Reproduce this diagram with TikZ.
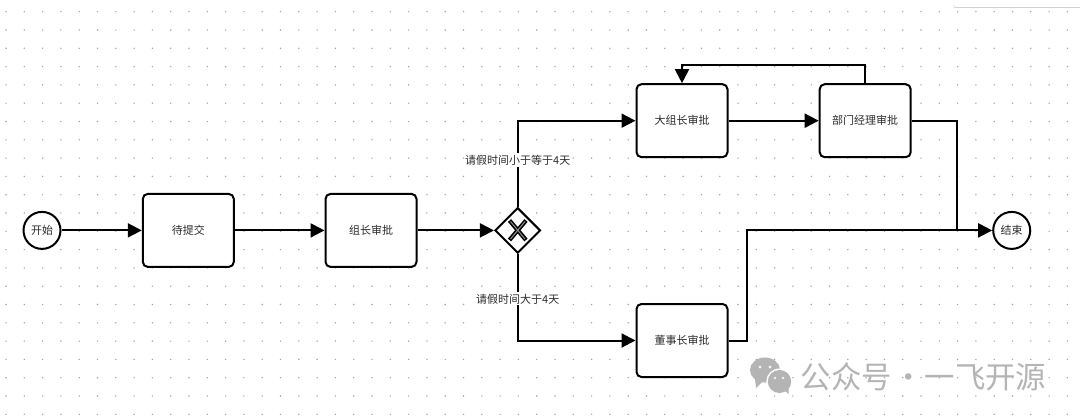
\documentclass[tikz,border=0pt]{standalone}
\usepackage{fontspec}
\setmainfont{Noto Sans CJK SC}
\usetikzlibrary{arrows.meta,shapes.geometric,shadows}
\definecolor{textgray}{HTML}{2B2B2B}
\definecolor{dotgray}{HTML}{A6A6A6}
\definecolor{markgray}{HTML}{B4B4B4}
\tikzset{
    taskbox/.style={draw=black,line width=2pt,rounded corners=5pt,fill=white,minimum width=91pt,minimum height=73pt,inner sep=0pt,text=textgray,font=\fontsize{11}{12}\selectfont},
    eventnode/.style={circle,draw=black,line width=2pt,fill=white,minimum size=37pt,inner sep=0pt,text=textgray,font=\fontsize{11}{12}\selectfont},
    gatewaynode/.style={diamond,draw=black,line width=2pt,fill=white,minimum width=45.5pt,minimum height=45.5pt,inner sep=0pt},
    flowline/.style={draw=black,line width=2pt,-{Triangle[length=14pt,width=14pt]}},
    plainline/.style={draw=black,line width=2pt},
    condlabel/.style={fill=white,inner xsep=1pt,inner ysep=1.5pt,text=textgray,font=\fontsize{11}{12}\selectfont},
    marktext/.style={text=markgray,inner sep=0pt,font=\fontsize{30.4}{32}\selectfont}
}
\begin{document}
\begin{tikzpicture}[x=1pt,y=-1pt]
    % Define dimensions
    \def\dotcols{58}
    \def\dotrows{22}
    \def\spacing{18.3}
    \useasboundingbox (0,0) rectangle (1080,420);
    \fill[white] (0,0) rectangle (1080,420);
    % Dotted paper
    \foreach \x in {0,1,...,\dotcols}
        \foreach \y in {0,1,...,\dotrows}
            \fill[dotgray] (6+\x*\spacing,11.7+\y*\spacing) circle (0.8pt);
    % Panel at the top right
    \fill[white,drop shadow={shadow xshift=0pt,shadow yshift=-1pt,opacity=0.35}] (953,-10) [rounded corners=3pt] rectangle (1090,7);
    % Events and tasks
    \node[eventnode] (startev) at (42,230.4) {开始};
    \node[taskbox] (submit) at (188.3,230.4) {待提交};
    \node[taskbox] (leader) at (371,230.4) {组长审批};
    \node[gatewaynode] (gate) at (517.7,230.4) {};
    \node[taskbox] (bigleader) at (682,120.7) {大组长审批};
    \node[taskbox] (manager) at (865.2,120.7) {部门经理审批};
    \node[taskbox] (chairman) at (682,340.5) {董事长审批};
    \node[eventnode] (endev) at (1011.7,230.4) {结束};
    \coordinate (joint) at (957.3,230.4);
    % Cross inside the gateway
    \draw[black,line width=4.2pt] (509.5,220.5) -- (526,240) (526,220.5) -- (509.5,240);
    \draw[black!45,line width=1pt] (510.5,221.5) -- (525,239) (525,221.5) -- (510.5,239);
    % Connectors
    \draw[flowline] (startev) -- (submit);
    \draw[flowline] (submit) -- (leader);
    \draw[flowline] (leader) -- (gate);
    \draw[flowline] (gate.north) |- node[condlabel,pos=0.271] (labelshort) {请假时间小于等于4天} (bigleader.west);
    \draw[flowline] (gate.south) |- node[condlabel,pos=0.259] (labellong) {请假时间大于4天} (chairman.west);
    \draw[flowline] (bigleader) -- (manager);
    \draw[flowline] (manager.north) -- ++(0,-18.3) -| (bigleader.north);
    \draw[plainline] (manager.east) -| (joint);
    \draw[flowline] (chairman.east) -- ++(18,0) |- (endev.west);
    % Watermark
    \begin{scope}
        \fill[markgray] (765,370) ellipse (15pt and 12.5pt);
        \fill[markgray] (755,379) -- (756,388) -- (763,381) -- cycle;
        \fill[white] (779.5,381.5) ellipse (13.2pt and 13pt);
        \fill[markgray] (779.5,381.5) ellipse (11.7pt and 11.5pt);
        \fill[markgray] (784,390) -- (788.5,394) -- (788.5,386) -- cycle;
        \fill[white!85!markgray] (760,367) circle (1.6pt) (770,367) circle (1.6pt);
        \fill[white!85!markgray] (775,378) circle (1.3pt) (783,378) circle (1.3pt);
    \end{scope}
    \node[marktext,anchor=west] (mark) at (800.5,376.5) {公众号\hspace{1.2pt}·\hspace{1.2pt}一飞开源};
\end{tikzpicture}
\end{document}
